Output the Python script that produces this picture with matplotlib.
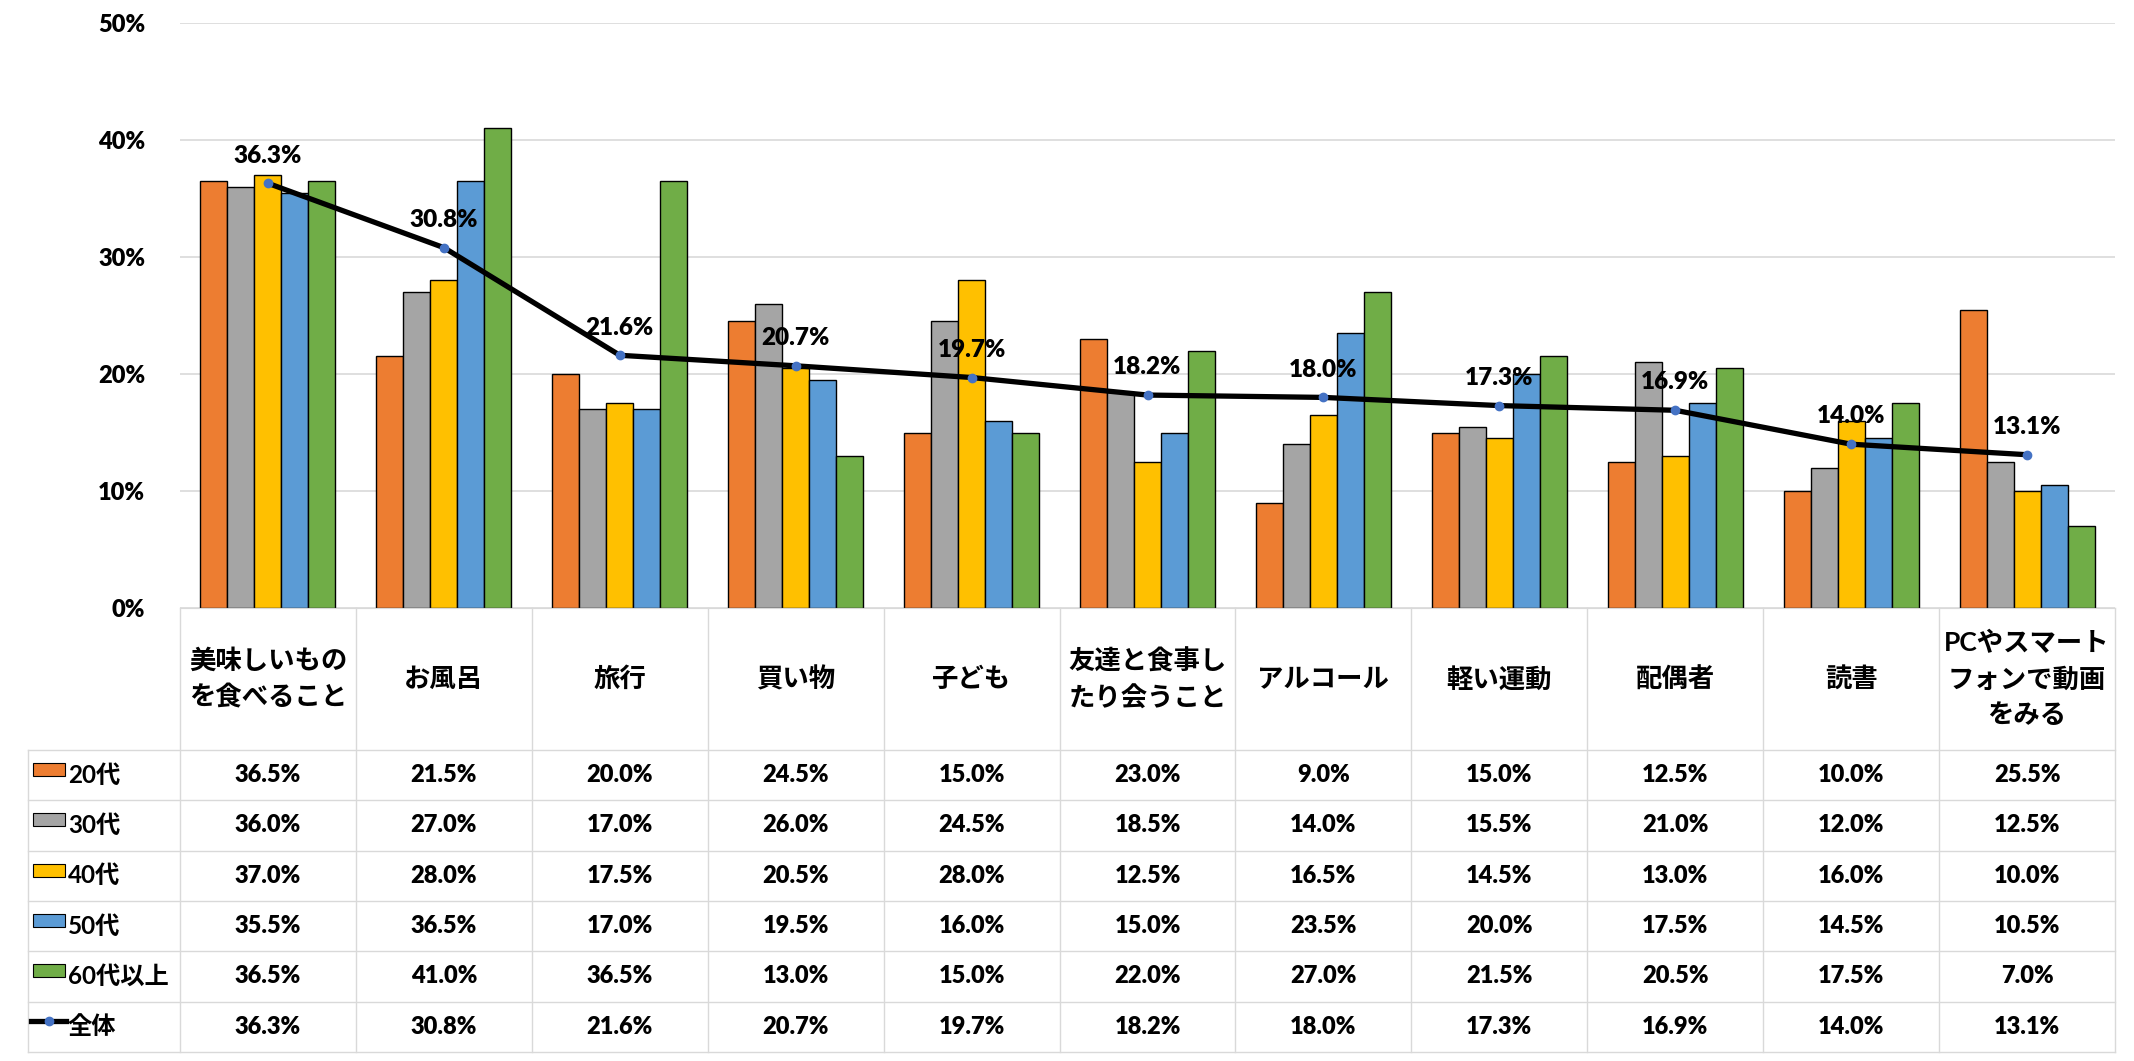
import numpy as np
import matplotlib
matplotlib.use("Agg")
import matplotlib.pyplot as plt
from matplotlib.transforms import blended_transform_factory
from matplotlib.patches import Rectangle
from matplotlib.lines import Line2D

plt.rcParams['font.family'] = ['Lato', 'Noto Sans CJK JP', 'DejaVu Sans']
plt.rcParams['font.weight'] = 'bold'

categories = ['美味しいもの\nを食べること', 'お風呂', '旅行', '買い物', '子ども',
              '友達と食事し\nたり会うこと', 'アルコール', '軽い運動', '配偶者', '読書',
              'PCやスマート\nフォンで動画\nをみる']
age_groups = ['20代', '30代', '40代', '50代', '60代以上']
v20 = [36.5, 21.5, 20.0, 24.5, 15.0, 23.0, 9.0, 15.0, 12.5, 10.0, 25.5]
v30 = [36.0, 27.0, 17.0, 26.0, 24.5, 18.5, 14.0, 15.5, 21.0, 12.0, 12.5]
v40 = [37.0, 28.0, 17.5, 20.5, 28.0, 12.5, 16.5, 14.5, 13.0, 16.0, 10.0]
v50 = [35.5, 36.5, 17.0, 19.5, 16.0, 15.0, 23.5, 20.0, 17.5, 14.5, 10.5]
v60 = [36.5, 41.0, 36.5, 13.0, 15.0, 22.0, 27.0, 21.5, 20.5, 17.5, 7.0]
overall_label = '全体'
overall = [36.3, 30.8, 21.6, 20.7, 19.7, 18.2, 18.0, 17.3, 16.9, 14.0, 13.1]

series = [v20, v30, v40, v50, v60]
colors = ['#ED7D31', '#A5A5A5', '#FFC000', '#5B9BD5', '#70AD47']
grid_c = '#D9D9D9'
num_w = 'heavy'

W, H = 2134, 1061
AX_L, AX_R, AX_T, AX_B = 180, 2115, 23, 608
fig = plt.figure(figsize=(W / 100, H / 100), dpi=100)
ax = fig.add_axes([AX_L / W, 1 - AX_B / H, (AX_R - AX_L) / W, (AX_B - AX_T) / H])

n = len(categories)
x = np.arange(n)
bw = 0.1535
for k, (vals, c) in enumerate(zip(series, colors)):
    ax.bar(x + (k - 2) * bw, vals, bw, color=c, edgecolor='black', linewidth=1, zorder=2)

ax.plot(x, overall, color='black', lw=3.8, marker='o', ms=6, mfc='#4472C4',
        mec='#4472C4', zorder=3)
for xi, v in zip(x, overall):
    ax.annotate(f'{v:.1f}%', (xi, v), xytext=(0, 20), textcoords='offset points',
                ha='center', va='center', fontsize=17.5, fontweight=num_w, zorder=4)

ax.set_yticks(range(0, 51, 10))
ax.set_yticklabels([f'{t}%' for t in range(0, 51, 10)], fontweight=num_w)
ax.tick_params(axis='y', length=0, pad=25, labelsize=17)
ax.set_xticks([])
ax.grid(axis='y', color=grid_c, lw=1.2)
ax.set_axisbelow(True)
for s in ['top', 'left', 'right']:
    ax.spines[s].set_visible(False)
ax.spines['bottom'].set_color(grid_c)

# data table under the chart
trans = blended_transform_factory(ax.transData, ax.transAxes)
px_per_cat = (AX_R - AX_L) / n


def xd(px):
    return -0.5 + (px - AX_L) / px_per_cat


def ya(py):
    return (AX_B - py) / (AX_B - AX_T)


head_bot = 750
row_h = 50.33
rows_py = [head_bot + i * row_h for i in range(7)]
left_px = 28

for i in range(n + 1):
    ax.add_line(Line2D([i - 0.5, i - 0.5], [ya(AX_B), ya(rows_py[-1])], color=grid_c,
                       lw=1, transform=trans, clip_on=False))
ax.add_line(Line2D([xd(left_px), xd(left_px)], [ya(head_bot), ya(rows_py[-1])],
                   color=grid_c, lw=1, transform=trans, clip_on=False))
for py in rows_py:
    ax.add_line(Line2D([xd(left_px), n - 0.5], [ya(py), ya(py)], color=grid_c, lw=1,
                       transform=trans, clip_on=False))

for i, cat in enumerate(categories):
    ax.text(i, ya((AX_B + head_bot) / 2), cat, transform=trans, ha='center', va='center',
            fontsize=19, linespacing=1.58, multialignment='center')

row_vals = series + [overall]
row_names = age_groups + [overall_label]
for r, (vals, name) in enumerate(zip(row_vals, row_names)):
    top = rows_py[r]
    cy = top + row_h / 2
    for i, v in enumerate(vals):
        ax.text(i, ya(cy), f'{v:.1f}%', transform=trans, ha='center', va='center',
                fontsize=17, fontweight=num_w)
    ax.text(xd(68), ya(cy), name, transform=trans, ha='left', va='center',
            fontsize=17.5, fontweight='bold')
    if r < len(colors):
        ax.add_patch(Rectangle((xd(33), ya(top + 26)), (65 - 33) / px_per_cat, 13 / (AX_B - AX_T),
                               facecolor=colors[r], edgecolor='black', lw=0.8,
                               transform=trans, clip_on=False))
    else:
        ax.add_line(Line2D([xd(31), xd(66)], [ya(cy - 6), ya(cy - 6)], color='black', lw=3.8,
                           transform=trans, clip_on=False))
        ax.add_line(Line2D([xd(48.5)], [ya(cy - 6)], marker='o', ms=6, mfc='#4472C4',
                           mec='#4472C4', transform=trans, clip_on=False))

ax.set_xlim(-0.5, n - 0.5)
ax.set_ylim(0, 50)

fig.savefig('out.png', dpi=100, facecolor='white')
